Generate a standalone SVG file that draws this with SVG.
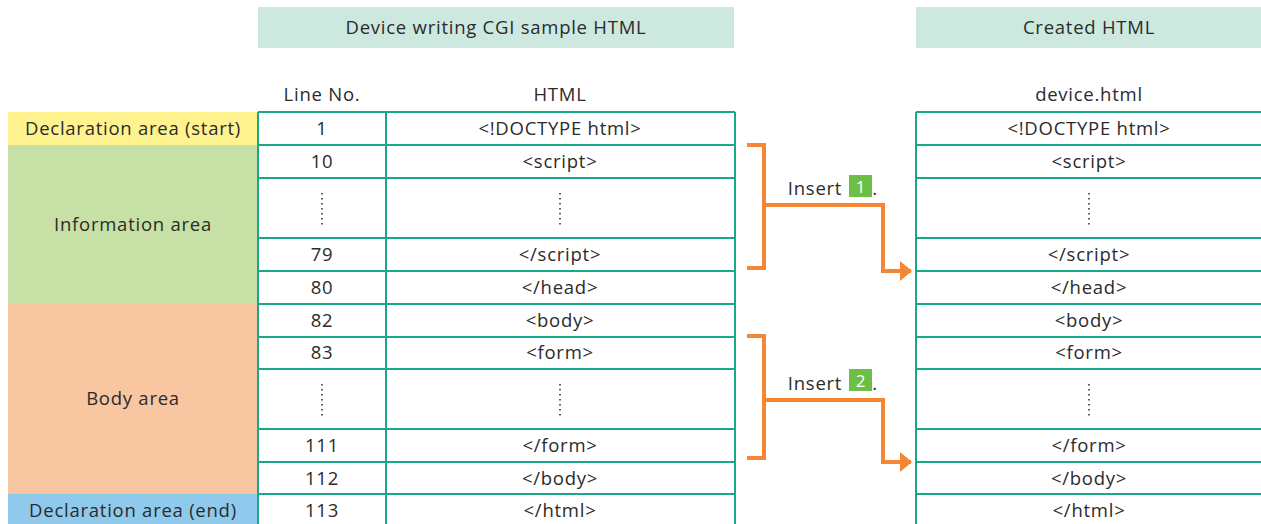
<svg xmlns="http://www.w3.org/2000/svg" width="1261" height="524" viewBox="0 0 1261 524">
<style>
text{font-family:"Open Sans","Liberation Sans",Arial,sans-serif;font-size:18.5px;letter-spacing:0.75px;fill:#2b2b2b;text-anchor:middle}
.grid{stroke:#1aa88a;stroke-width:2;fill:none}
.dots{stroke:#333;stroke-width:1.6;stroke-dasharray:1.6 3.4}
.conn{stroke:#f58634;stroke-width:4;fill:none}
.num{fill:#fff;font-size:17px;letter-spacing:0}
</style>
<defs>
<marker id="ah" markerWidth="12" markerHeight="20" refX="11" refY="10" orient="auto" markerUnits="userSpaceOnUse">
<path d="M0,0 L12,10 L0,20 Z" fill="#f58634"/>
</marker>
</defs>
<rect width="1261" height="524" fill="#fff"/>
<g id="header-sample">
<rect x="258" y="7" width="476" height="41" fill="#cde8df"/>
<text x="496" y="34">Device writing CGI sample HTML</text>
</g>
<g id="header-created">
<rect x="916" y="7" width="345" height="41" fill="#cde8df"/>
<text x="1089" y="34">Created HTML</text>
</g>
<g id="col-headers">
<text x="322" y="101">Line No.</text>
<text x="560" y="101">HTML</text>
<text x="1089" y="101">device.html</text>
</g>
<g id="area-labels">
<rect x="8" y="112" width="250" height="33" fill="#fff38f"/>
<text x="133" y="134.5">Declaration area (start)</text>
<rect x="8" y="145" width="250" height="159" fill="#c7e0a6"/>
<text x="133" y="230.5">Information area</text>
<rect x="8" y="304" width="250" height="190" fill="#f8c6a0"/>
<text x="133" y="404.5">Body area</text>
<rect x="8" y="494" width="250" height="30" fill="#8fc9eb"/>
<text x="133" y="516.5">Declaration area (end)</text>
</g>
<g id="table-sample">
<path class="grid" d="M258,112H735M258,145H735M258,178H735M258,238H735M258,271H735M258,304H735M258,337H735M258,369H735M258,429H735M258,462H735M258,494H735M258,112V524M386,112V524M735,112V524"/>
<g id="line-numbers">
<text x="322" y="134.5">1</text>
<text x="322" y="167.5">10</text>
<line class="dots" x1="322" y1="193" x2="322" y2="225"/>
<text x="322" y="260.5">79</text>
<text x="322" y="293.5">80</text>
<text x="322" y="326.5">82</text>
<text x="322" y="358.5">83</text>
<line class="dots" x1="322" y1="384" x2="322" y2="416"/>
<text x="322" y="451.5">111</text>
<text x="322" y="484.5">112</text>
<text x="322" y="516.5">113</text>
</g>
<g id="html-lines">
<text x="560" y="134.5">&lt;!DOCTYPE html&gt;</text>
<text x="560" y="167.5">&lt;script&gt;</text>
<line class="dots" x1="560" y1="193" x2="560" y2="225"/>
<text x="560" y="260.5">&lt;/script&gt;</text>
<text x="560" y="293.5">&lt;/head&gt;</text>
<text x="560" y="326.5">&lt;body&gt;</text>
<text x="560" y="358.5">&lt;form&gt;</text>
<line class="dots" x1="560" y1="384" x2="560" y2="416"/>
<text x="560" y="451.5">&lt;/form&gt;</text>
<text x="560" y="484.5">&lt;/body&gt;</text>
<text x="560" y="516.5">&lt;/html&gt;</text>
</g>
</g>
<g id="table-created">
<path class="grid" d="M916,112H1261M916,145H1261M916,178H1261M916,238H1261M916,271H1261M916,304H1261M916,337H1261M916,369H1261M916,429H1261M916,462H1261M916,494H1261M916,112V524"/>
<text x="1089" y="134.5">&lt;!DOCTYPE html&gt;</text>
<text x="1089" y="167.5">&lt;script&gt;</text>
<line class="dots" x1="1089" y1="193" x2="1089" y2="225"/>
<text x="1089" y="260.5">&lt;/script&gt;</text>
<text x="1089" y="293.5">&lt;/head&gt;</text>
<text x="1089" y="326.5">&lt;body&gt;</text>
<text x="1089" y="358.5">&lt;form&gt;</text>
<line class="dots" x1="1089" y1="384" x2="1089" y2="416"/>
<text x="1089" y="451.5">&lt;/form&gt;</text>
<text x="1089" y="484.5">&lt;/body&gt;</text>
<text x="1089" y="516.5">&lt;/html&gt;</text>
</g>
<g id="connectors">
<path class="conn" d="M747,145H764V268H747"/>
<path class="conn" d="M764,205H883V271H911" marker-end="url(#ah)"/>
<path class="conn" d="M747,336H764V458H747"/>
<path class="conn" d="M764,400H883V462H911" marker-end="url(#ah)"/>
</g>
<g id="label-insert-1">
<text x="815" y="195">Insert</text>
<rect x="849" y="175" width="23" height="22" fill="#6bbf45"/>
<text x="860.5" y="193" class="num">1</text>
<text x="875" y="195">.</text>
</g>
<g id="label-insert-2">
<text x="815" y="390">Insert</text>
<rect x="849" y="369" width="23" height="22" fill="#6bbf45"/>
<text x="860.5" y="387" class="num">2</text>
<text x="875" y="390">.</text>
</g>
</svg>
